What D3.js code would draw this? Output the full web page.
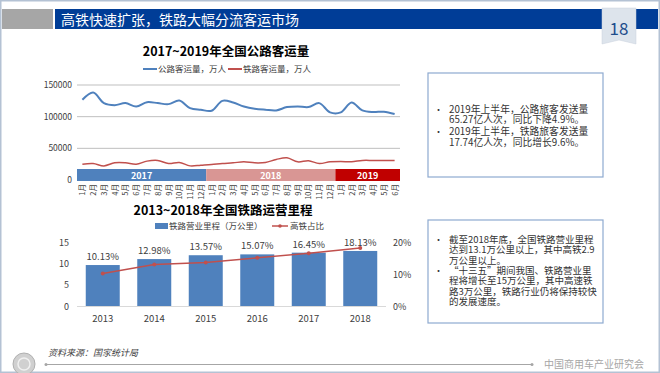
<!DOCTYPE html>
<html>
<head>
<meta charset="utf-8">
<script src="https://cdn.jsdelivr.net/npm/d3@7"></script>
<style>
  body { margin: 0; background: #fff; }
  svg { display: block; font-family: "Noto Sans CJK SC", "Noto Sans", sans-serif; }
</style>
</head>
<body>
<div id="chart"></div>
<script>
// ---- data ----
const months = ["1月","2月","3月","4月","5月","6月","7月","8月","9月","10月","11月","12月",
                "1月","2月","3月","4月","5月","6月","7月","8月","9月","10月","11月","12月",
                "1月","2月","3月","4月","5月","6月"];
const roadPassengers = [126600,138000,121400,118200,121400,116100,122900,121400,119800,125500,113500,110900,
                        109400,125000,122400,116100,112500,110900,109900,115100,116100,115100,121400,106800,
                        106800,122400,109900,107300,107800,104200];
const railPassengers = [25000,26100,22300,27100,27100,25000,29800,30900,26100,27700,22300,23400,
                        24500,26100,27100,28700,27100,27700,32400,35100,28700,30300,26100,28700,
                        29300,28700,30900,30900,30900,30900];
const yearBands = [
  { label: "2017", from: 0, to: 12, color: "#4f81bd" },
  { label: "2018", from: 12, to: 24, color: "#d99694" },
  { label: "2019", from: 24, to: 30, color: "#c00000" }
];
const lineTicks = [0, 50000, 100000, 150000];

const barYears = ["2013","2014","2015","2016","2017","2018"];
const railLength = [9.6, 11.0, 11.9, 12.1, 12.5, 12.9];
const hsrShare = [10.13, 12.98, 13.57, 15.07, 16.45, 18.13];
const leftTicks = [0, 5, 10, 15];
const rightTicks = [0, 10, 20];

const note1 = [
  ["2019年上半年，公路旅客发送量", "65.27亿人次，同比下降4.9%。"],
  ["2019年上半年，铁路旅客发送量", "17.74亿人次，同比增长9.6%。"]
];
const note2 = [
  ["截至2018年底，全国铁路营业里程", "达到13.1万公里以上，其中高铁2.9", "万公里以上。"],
  ["“十三五”期间我国、铁路营业里", "程将增长至15万公里，其中高速铁", "路3万公里，铁路行业仍将保持较快", "的发展速度。"]
];

const W = 660, H = 373;
const blue = "#4f81bd", red = "#c0504d";

const svg = d3.select("#chart").append("svg")
    .attr("width", W).attr("height", H);

// frame
svg.append("rect").attr("x", 0.5).attr("y", 0.5).attr("width", W - 1).attr("height", H - 1)
    .attr("fill", "#fff").attr("stroke", "#b4c2d4").attr("stroke-width", 2);

// ---- header ----
svg.append("rect").attr("x", 2).attr("y", 9).attr("width", 51).attr("height", 20).attr("fill", "#a6a6a6");
svg.append("rect").attr("x", 55).attr("y", 9).attr("width", 603).attr("height", 20).attr("fill", "#003d97");
svg.append("text").attr("x", 61).attr("y", 24.5).attr("fill", "#fff")
    .attr("font-size", 14).text("高铁快速扩张，铁路大幅分流客运市场");

// page badge
svg.append("path")
    .attr("d", "M602,8 L636,8 L636,44 L619,40 L602,44 Z")
    .attr("fill", "#dde4ec").attr("stroke", "#c8d1dc").attr("stroke-width", 0.5);
svg.append("text").attr("x", 619).attr("y", 35).attr("text-anchor", "middle")
    .attr("fill", "#1f4e8c").attr("font-size", 17).text("18");

// ---- line chart ----
const lc = { left: 77, right: 400, top: 85, bottom: 180 };
const xL = d3.scaleBand().domain(d3.range(months.length)).range([lc.left, lc.right]);
const yL = d3.scaleLinear().domain([0, 150000]).range([lc.bottom, lc.top]);

svg.append("text").attr("x", 226).attr("y", 56).attr("text-anchor", "middle")
    .attr("font-size", 12.5).attr("font-weight", "bold").attr("fill", "#000")
    .text("2017~2019年全国公路客运量");

// legend
const lgL = svg.append("g").attr("font-size", 8.5).attr("fill", "#404040");
[[143, "公路客运量，万人", blue], [228, "铁路客运量，万人", red]].forEach(([x, t, c]) => {
  lgL.append("line").attr("x1", x).attr("x2", x + 14).attr("y1", 69).attr("y2", 69)
      .attr("stroke", c).attr("stroke-width", 2);
  lgL.append("text").attr("x", x + 15).attr("y", 72).text(t);
});

const gridL = svg.append("g");
lineTicks.filter(d => d > 0).forEach(v => {
  gridL.append("line").attr("x1", lc.left).attr("x2", lc.right)
      .attr("y1", yL(v)).attr("y2", yL(v)).attr("stroke", "#bfbfbf").attr("stroke-width", 1);
});
svg.append("g").attr("font-size", 8.5).attr("fill", "#404040").attr("text-anchor", "end")
  .selectAll("text").data(lineTicks).join("text")
    .attr("x", lc.left - 5).attr("y", d => yL(d) + 3).text(d => d);

const line = d3.line()
    .x((d, i) => xL(i) + xL.bandwidth() / 2)
    .y(d => yL(d))
    .curve(d3.curveCatmullRom.alpha(0.5));

svg.append("path").datum(roadPassengers).attr("d", line)
    .attr("fill", "none").attr("stroke", blue).attr("stroke-width", 2);
svg.append("path").datum(railPassengers).attr("d", line)
    .attr("fill", "none").attr("stroke", red).attr("stroke-width", 1.5);

// year bands
const bandG = svg.append("g");
yearBands.forEach(b => {
  const x0 = xL(b.from), x1 = b.to >= months.length ? lc.right : xL(b.to);
  bandG.append("rect").attr("x", x0).attr("y", 169).attr("width", x1 - x0).attr("height", 12)
      .attr("fill", b.color);
  bandG.append("text").attr("x", (x0 + x1) / 2).attr("y", 178.5).attr("text-anchor", "middle")
      .attr("fill", "#fff").attr("font-size", 9).attr("font-weight", "bold").text(b.label);
});

// month labels
svg.append("g").attr("font-size", 7.5).attr("fill", "#404040")
  .selectAll("text").data(months).join("text")
    .attr("transform", (d, i) => `translate(${xL(i) + xL.bandwidth() / 2 + 3},184) rotate(-90)`)
    .attr("text-anchor", "end").text(d => d);

// ---- bar chart ----
const bc = { left: 77, right: 386, top: 242, bottom: 306 };
const xB = d3.scaleBand().domain(barYears).range([bc.left, bc.right]).paddingInner(0.34).paddingOuter(0.17);
const yB = d3.scaleLinear().domain([0, 15]).range([bc.bottom, bc.top]);
const yR = d3.scaleLinear().domain([0, 20]).range([bc.bottom, bc.top]);

svg.append("text").attr("x", 223).attr("y", 215).attr("text-anchor", "middle")
    .attr("font-size", 12.5).attr("font-weight", "bold").attr("fill", "#000")
    .text("2013~2018年全国铁路运营里程");

const lgB = svg.append("g").attr("font-size", 8.5).attr("fill", "#404040");
lgB.append("rect").attr("x", 155).attr("y", 223).attr("width", 13).attr("height", 6).attr("fill", blue);
lgB.append("text").attr("x", 169).attr("y", 229).text("铁路营业里程（万公里）");
lgB.append("line").attr("x1", 272).attr("x2", 288).attr("y1", 226).attr("y2", 226)
    .attr("stroke", red).attr("stroke-width", 1.5);
lgB.append("circle").attr("cx", 280).attr("cy", 226).attr("r", 1.8).attr("fill", red);
lgB.append("text").attr("x", 290).attr("y", 229).text("高铁占比");

svg.append("g").attr("font-size", 9).attr("fill", "#404040").attr("text-anchor", "end")
  .selectAll("text").data(leftTicks).join("text")
    .attr("x", 69).attr("y", d => yB(d) + 3.5).text(d => d);
svg.append("g").attr("font-size", 9).attr("fill", "#404040")
  .selectAll("text").data(rightTicks).join("text")
    .attr("x", 393).attr("y", d => yR(d) + 3.5).text(d => d + "%");

svg.append("g").selectAll("rect").data(railLength).join("rect")
    .attr("x", (d, i) => xB(barYears[i]))
    .attr("y", d => yB(d))
    .attr("width", xB.bandwidth())
    .attr("height", d => bc.bottom - yB(d))
    .attr("fill", blue);

svg.append("line").attr("x1", bc.left).attr("x2", bc.right).attr("y1", bc.bottom + 0.5).attr("y2", bc.bottom + 0.5)
    .attr("stroke", "#d9d9d9");

const shareLine = d3.line()
    .x((d, i) => xB(barYears[i]) + xB.bandwidth() / 2)
    .y(d => yR(d));
svg.append("path").datum(hsrShare).attr("d", shareLine)
    .attr("fill", "none").attr("stroke", red).attr("stroke-width", 1.5);
svg.append("g").selectAll("circle").data(hsrShare).join("circle")
    .attr("cx", (d, i) => xB(barYears[i]) + xB.bandwidth() / 2)
    .attr("cy", d => yR(d)).attr("r", 2).attr("fill", red);

svg.append("g").attr("font-size", 9.5).attr("fill", "#404040").attr("text-anchor", "middle")
  .selectAll("text").data(hsrShare).join("text")
    .attr("x", (d, i) => xB(barYears[i]) + xB.bandwidth() / 2)
    .attr("y", (d, i) => yB(railLength[i]) - 5)
    .text(d => d.toFixed(2) + "%");

svg.append("g").attr("font-size", 9.5).attr("fill", "#404040").attr("text-anchor", "middle")
  .selectAll("text").data(barYears).join("text")
    .attr("x", d => xB(d) + xB.bandwidth() / 2).attr("y", 322).text(d => d);

// ---- note boxes (one text element per bullet, lines as tspans) ----
function noteBox(x, y, w, h, bullets, firstY, lh, gap, fs) {
  const g = svg.append("g");
  g.append("rect").attr("x", x).attr("y", y).attr("width", w).attr("height", h)
      .attr("fill", "#fff").attr("stroke", "#8eaad0").attr("stroke-width", 1.2);
  let cy = firstY;
  bullets.forEach(lines => {
    g.append("text").attr("x", x + 6).attr("y", cy + 3.5).attr("font-size", 9).attr("fill", "#333").text("•");
    const t = g.append("text").attr("x", x + 21).attr("y", cy + 3.5)
        .attr("font-size", fs).attr("fill", "#333");
    lines.forEach((s, i) => {
      t.append("tspan").attr("x", x + 21).attr("dy", i === 0 ? 0 : lh).text(s);
    });
    cy += lines.length * lh + gap;
  });
}
noteBox(428, 73, 175, 104, note1, 109.3, 10.2, 2.1, 9.8);
noteBox(428, 220, 175, 103, note2, 239.3, 10.4, 0, 9.5);

// ---- footer ----
svg.append("text").attr("x", 48).attr("y", 356).attr("font-size", 9).attr("font-style", "italic")
    .attr("fill", "#404040").text("资料来源：国家统计局");
svg.append("line").attr("x1", 46).attr("x2", 532).attr("y1", 364.5).attr("y2", 364.5)
    .attr("stroke", "#a6a6a6").attr("stroke-width", 1);
[46, 532].forEach(x => svg.append("circle").attr("cx", x).attr("cy", 364.5).attr("r", 1.5).attr("fill", "#a6a6a6"));
svg.append("circle").attr("cx", 24).attr("cy", 364).attr("r", 11).attr("fill", "#d0d0d0").attr("stroke", "#b0b0b0");
svg.append("circle").attr("cx", 24).attr("cy", 364).attr("r", 6).attr("fill", "none").attr("stroke", "#f0f0f0").attr("stroke-width", 1.5);
svg.append("text").attr("x", 644).attr("y", 368).attr("text-anchor", "end").attr("font-size", 10)
    .attr("fill", "#a6a6a6").text("中国商用车产业研究会");
</script>
</body>
</html>
